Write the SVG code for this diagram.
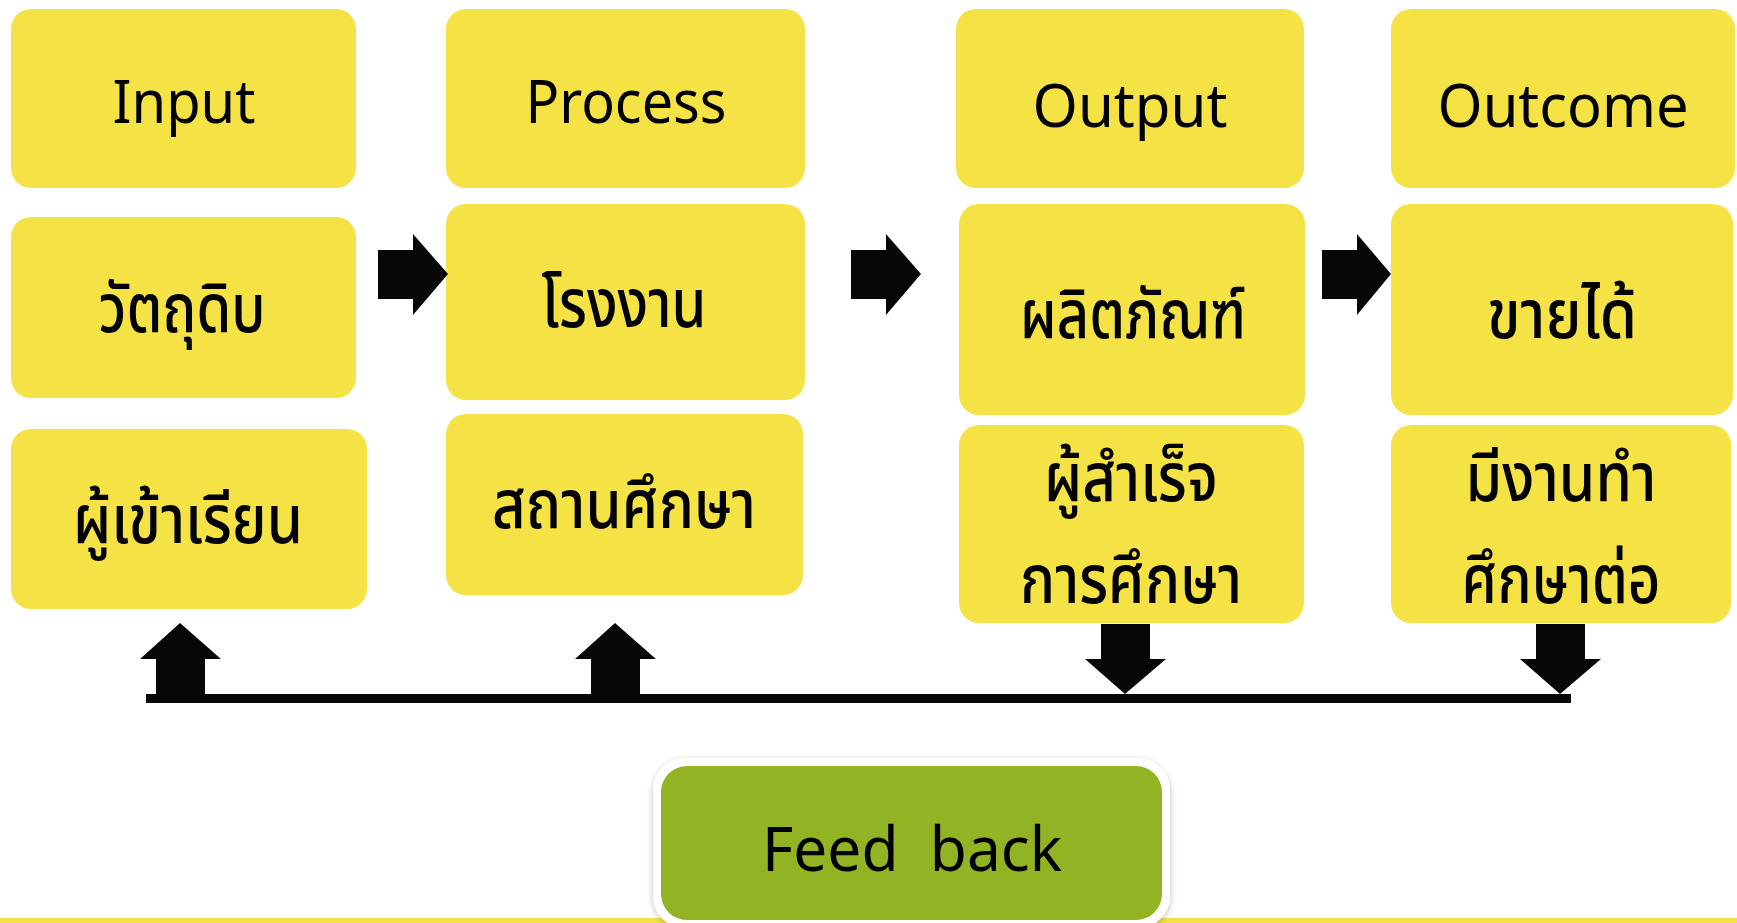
<svg xmlns="http://www.w3.org/2000/svg" width="1737" height="923" viewBox="0 0 1737 923">
<style>
.box{fill:#F5E346}
.arr{fill:#070707}
.t{font-family:"Noto Sans Thai","Noto Sans","Liberation Sans",sans-serif;fill:#000;text-anchor:middle}
.h{font-size:60px}
.th{font-size:68px;font-weight:500}
.fb{font-size:62px}
</style>
<defs>
<filter id="sh" x="-10%" y="-10%" width="120%" height="130%">
<feDropShadow dx="0" dy="2" stdDeviation="3" flood-color="#000" flood-opacity="0.25"/>
</filter>
</defs>
<rect x="0" y="918" width="1737" height="5" fill="#F5E346"/>
<g id="input">
<rect class="box" x="11" y="9" width="345" height="179" rx="20"/>
<text class="t h" x="184" y="123" textLength="143" lengthAdjust="spacingAndGlyphs">Input</text>
</g>
<g id="process">
<rect class="box" x="446" y="9" width="359" height="179" rx="20"/>
<text class="t h" x="626" y="123" textLength="201" lengthAdjust="spacingAndGlyphs">Process</text>
</g>
<g id="output">
<rect class="box" x="956" y="9" width="348" height="179" rx="20"/>
<text class="t h" x="1130" y="127" textLength="195" lengthAdjust="spacingAndGlyphs">Output</text>
</g>
<g id="outcome">
<rect class="box" x="1391" y="9" width="344" height="179" rx="20"/>
<text class="t h" x="1563" y="127" textLength="251" lengthAdjust="spacingAndGlyphs">Outcome</text>
</g>
<g id="raw">
<rect class="box" x="11" y="217" width="345" height="181" rx="20"/>
<text class="t th" x="182" y="332" textLength="167" lengthAdjust="spacingAndGlyphs">วัตถุดิบ</text>
</g>
<g id="factory">
<rect class="box" x="446" y="204" width="359" height="196" rx="20"/>
<text class="t th" x="624" y="327" textLength="165" lengthAdjust="spacingAndGlyphs">โรงงาน</text>
</g>
<g id="product">
<rect class="box" x="959" y="204" width="346" height="211" rx="20"/>
<text class="t th" x="1133" y="338" textLength="226" lengthAdjust="spacingAndGlyphs">ผลิตภัณฑ์</text>
</g>
<g id="sold">
<rect class="box" x="1391" y="204" width="342" height="211" rx="20"/>
<text class="t th" x="1562" y="338" textLength="150" lengthAdjust="spacingAndGlyphs">ขายได้</text>
</g>
<g id="learner">
<rect class="box" x="11" y="429" width="356" height="180" rx="20"/>
<text class="t th" x="188" y="543" textLength="230" lengthAdjust="spacingAndGlyphs">ผู้เข้าเรียน</text>
</g>
<g id="school">
<rect class="box" x="446" y="414" width="357" height="181" rx="20"/>
<text class="t th" x="624" y="528" textLength="264" lengthAdjust="spacingAndGlyphs">สถานศึกษา</text>
</g>
<g id="graduate">
<rect class="box" x="959" y="425" width="345" height="198" rx="20"/>
<text class="t th" x="1131" y="501" textLength="174" lengthAdjust="spacingAndGlyphs">ผู้สำเร็จ</text>
<text class="t th" x="1131" y="603" textLength="222" lengthAdjust="spacingAndGlyphs">การศึกษา</text>
</g>
<g id="employed">
<rect class="box" x="1391" y="425" width="340" height="198" rx="20"/>
<text class="t th" x="1561" y="501" textLength="191" lengthAdjust="spacingAndGlyphs">มีงานทำ</text>
<text class="t th" x="1561" y="603" textLength="199" lengthAdjust="spacingAndGlyphs">ศึกษาต่อ</text>
</g>
<g id="feedback">
<rect x="653" y="758" width="517" height="170" rx="32" fill="#fff" filter="url(#sh)"/>
<rect x="661" y="766" width="501" height="154" rx="26" fill="#92B324"/>
<text class="t fb" x="912" y="871" textLength="300" lengthAdjust="spacingAndGlyphs" xml:space="preserve">Feed  back</text>
</g>
<g id="connectors">
<polygon class="arr" points="378,250 413,250 413,234 448,274 413,315 413,299 378,299"/>
<polygon class="arr" points="851,250 886,250 886,234 921,274 886,315 886,299 851,299"/>
<polygon class="arr" points="1322,250 1357,250 1357,234 1391,274 1357,315 1357,299 1322,299"/>
<polygon class="arr" points="156,694 156,659 140,659 180,623 221,659 205,659 205,694"/>
<polygon class="arr" points="591,694 591,659 575,659 615,623 656,659 640,659 640,694"/>
<polygon class="arr" points="1101,624 1150,624 1150,659 1166,659 1125,694 1085,659 1101,659"/>
<polygon class="arr" points="1536,624 1585,624 1585,659 1601,659 1560,694 1520,659 1536,659"/>
<rect class="arr" x="146" y="694" width="1425" height="9"/>
</g>
</svg>
